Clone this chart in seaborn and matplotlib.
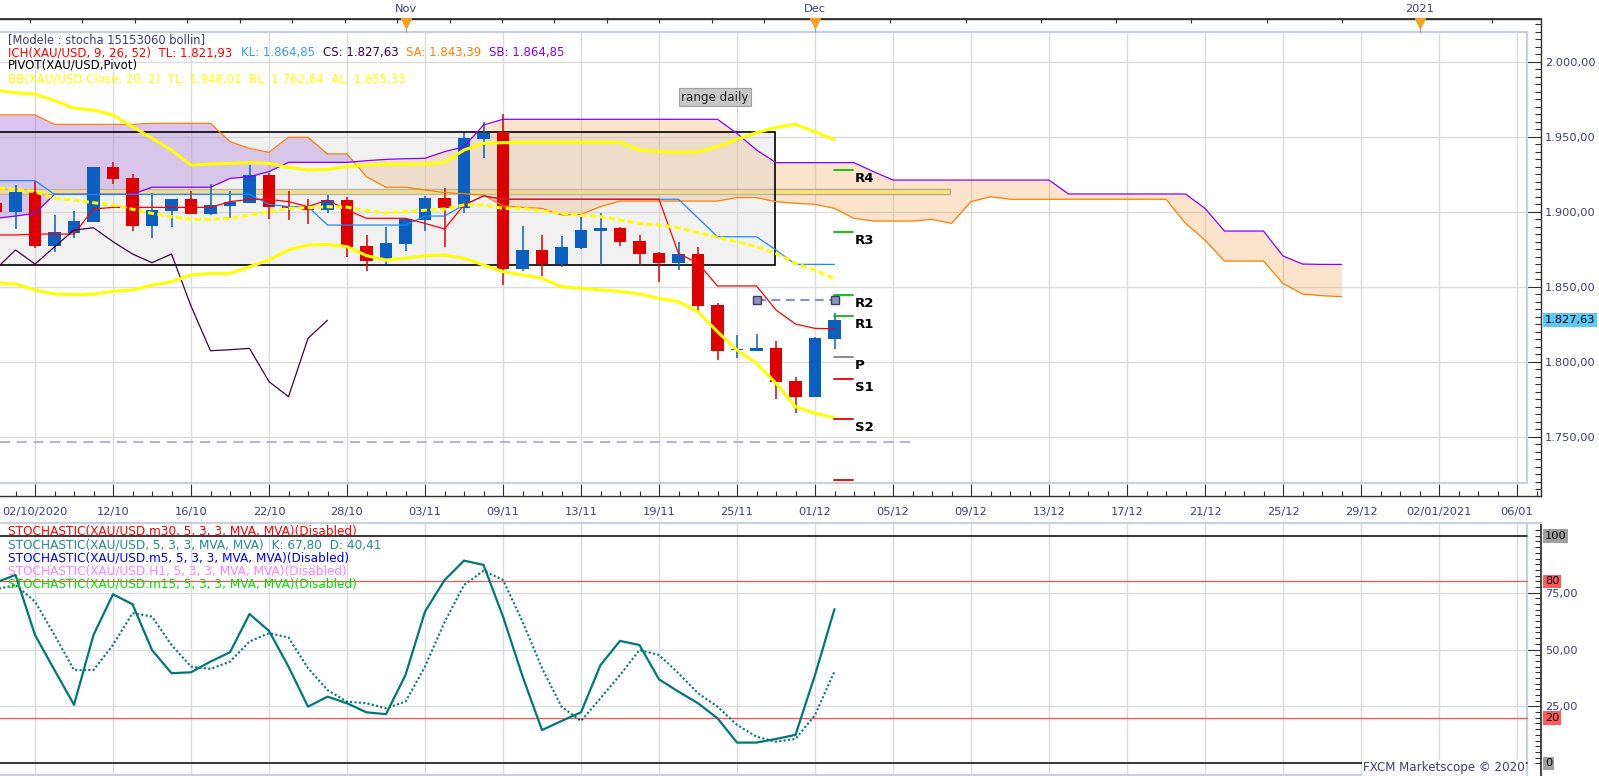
import numpy as np
import pandas as pd
import matplotlib
matplotlib.use("Agg")
import matplotlib.pyplot as plt
from matplotlib.patches import Rectangle
import seaborn as sns

# ---------------- data ----------------
bar_index = list(range(-2, 42))
opens = [1906.0, 1900.0, 1913.3, 1877.3, 1886.0, 1893.3, 1929.8, 1922.5, 1890.7, 1900.7,
         1908.3, 1898.5, 1903.8, 1906.0, 1924.5, 1903.8, 1902.9, 1901.1, 1907.8, 1877.1,
         1868.5, 1878.5, 1894.5, 1909.1, 1902.7, 1948.5, 1952.9, 1861.8, 1874.5, 1865.1,
         1876.0, 1887.3, 1889.3, 1880.7, 1872.3, 1866.0, 1871.8, 1837.8, 1807.5, 1807.3,
         1808.9, 1787.1, 1776.7, 1815.1]
highs = [1908.0, 1917.8, 1920.5, 1897.8, 1900.5, 1929.8, 1933.0, 1925.1, 1912.3, 1908.5,
         1913.8, 1918.5, 1913.8, 1931.1, 1926.0, 1913.8, 1908.3, 1911.1, 1910.0, 1884.5,
         1890.0, 1896.0, 1910.5, 1915.6, 1952.7, 1959.6, 1965.1, 1890.5, 1884.5, 1883.8,
         1896.7, 1898.9, 1889.5, 1884.5, 1873.3, 1880.0, 1876.3, 1839.3, 1817.8, 1818.3,
         1813.8, 1790.0, 1816.7, 1832.3]
lows = [1897.0, 1888.3, 1875.6, 1873.3, 1882.7, 1893.3, 1918.5, 1887.3, 1882.7, 1890.0,
        1898.5, 1897.8, 1895.6, 1906.0, 1895.1, 1894.5, 1891.8, 1898.9, 1870.0, 1860.5,
        1865.0, 1874.0, 1887.3, 1876.7, 1899.3, 1936.0, 1851.1, 1860.7, 1857.3, 1863.3,
        1874.9, 1864.3, 1877.3, 1864.5, 1853.3, 1861.1, 1833.3, 1801.1, 1802.7, 1807.3,
        1775.1, 1765.6, 1776.7, 1808.3]
closes = [1900.0, 1913.3, 1877.1, 1886.5, 1893.8, 1929.8, 1922.0, 1890.7, 1901.1, 1908.3,
          1898.5, 1904.5, 1906.3, 1924.5, 1903.3, 1902.7, 1901.1, 1907.8, 1876.7, 1867.3,
          1879.0, 1895.3, 1909.1, 1902.5, 1949.1, 1952.7, 1861.8, 1874.5, 1865.1, 1876.5,
          1887.8, 1889.3, 1880.0, 1871.8, 1866.0, 1871.8, 1837.1, 1807.3, 1808.0, 1808.9,
          1786.7, 1776.7, 1815.6, 1827.63]
tenkan = [1884.5, 1884.5, 1885.1, 1885.1, 1885.1, 1901.8, 1902.9, 1902.9, 1902.9, 1902.9,
          1902.9, 1902.9, 1906.7, 1908.2, 1908.2, 1906.7, 1903.4, 1907.8, 1901.1, 1895.6,
          1895.6, 1895.6, 1892.2, 1888.5, 1904.5, 1910.5, 1908.3, 1908.3, 1908.3, 1908.3,
          1908.3, 1908.3, 1908.3, 1908.3, 1908.3, 1872.2, 1865.6, 1850.5, 1850.5, 1850.5,
          1834.5, 1825.1, 1822.2, 1821.93]
kijun = [1920.7, 1920.7, 1920.7, 1911.6, 1911.6, 1911.6, 1911.6, 1911.6, 1911.6, 1911.6,
         1911.6, 1911.6, 1911.6, 1911.6, 1904.9, 1903.4, 1903.4, 1891.1, 1891.1, 1891.1,
         1891.1, 1891.1, 1897.1, 1897.1, 1904.5, 1910.5, 1908.3, 1908.3, 1908.3, 1908.3,
         1908.3, 1908.3, 1908.3, 1908.3, 1908.3, 1908.3, 1895.8, 1883.3, 1883.3, 1883.3,
         1874.5, 1864.9, 1864.9, 1864.85]
bb_upper = [1981.0, 1979.3, 1978.5, 1974.0, 1969.0, 1967.8, 1964.5, 1956.7, 1949.0, 1941.1,
            1931.1, 1931.8, 1932.2, 1932.7, 1932.2, 1929.6, 1927.8, 1928.2, 1930.0, 1931.1,
            1931.6, 1931.6, 1931.8, 1932.7, 1941.1, 1945.6, 1946.0, 1946.2, 1946.2, 1946.2,
            1946.2, 1946.2, 1946.2, 1941.1, 1940.0, 1939.6, 1940.0, 1943.3, 1948.2, 1952.7,
            1956.2, 1958.2, 1953.3, 1948.01]
bb_mid = [1916.0, 1914.9, 1913.3, 1908.9, 1907.8, 1906.0, 1904.5, 1901.6, 1898.9, 1896.7,
          1894.9, 1894.9, 1895.6, 1897.8, 1900.0, 1902.2, 1902.7, 1903.3, 1903.0, 1900.7,
          1899.3, 1900.0, 1901.0, 1901.8, 1904.5, 1904.5, 1902.2, 1902.2, 1900.5, 1898.9,
          1897.8, 1896.7, 1894.5, 1892.2, 1891.1, 1889.3, 1886.0, 1882.9, 1880.0, 1876.7,
          1872.2, 1865.6, 1861.1, 1855.33]
bb_lower = [1852.5, 1851.8, 1847.8, 1845.1, 1844.7, 1845.1, 1846.9, 1847.8, 1851.1, 1853.3,
            1857.8, 1858.9, 1858.9, 1863.3, 1867.8, 1874.5, 1877.8, 1878.2, 1876.7, 1870.7,
            1867.8, 1868.9, 1870.7, 1871.1, 1868.9, 1864.5, 1860.0, 1857.8, 1855.6, 1850.0,
            1849.0, 1847.8, 1846.9, 1845.1, 1842.2, 1840.0, 1833.3, 1820.0, 1807.8, 1798.9,
            1785.6, 1770.0, 1765.6, 1762.64]
stoch_k = [79.5, 82.8, 56.4, 41.0, 25.7, 56.4, 74.3, 69.9, 49.8, 39.6,
           40.0, 44.7, 48.8, 65.6, 58.2, 42.5, 24.9, 29.3, 26.4, 22.4,
           21.6, 38.8, 66.7, 80.5, 89.1, 87.2, 64.5, 38.3, 14.6, 18.6,
           22.4, 43.2, 53.8, 52.0, 36.9, 31.5, 26.4, 19.8, 9.1, 9.1,
           10.7, 12.5, 38.8, 67.8]
stoch_d = [76.5, 78.4, 71.1, 56.4, 41.0, 41.0, 52.0, 66.0, 64.5, 52.0,
           42.5, 41.5, 44.7, 53.5, 57.2, 55.3, 41.8, 32.2, 27.1, 26.4,
           24.2, 27.1, 42.5, 62.0, 78.4, 84.6, 80.6, 62.3, 41.8, 24.9,
           18.6, 28.6, 38.8, 49.8, 47.6, 39.6, 30.8, 24.9, 16.9, 11.7,
           9.5, 10.7, 21.2, 40.41]
cloud_index = list(range(-2, 68))
senkou_a = [1964.5, 1964.5, 1964.5, 1958.2, 1958.2, 1958.2, 1958.2, 1958.2, 1958.9, 1958.9,
            1958.9, 1958.9, 1946.7, 1942.2, 1939.6, 1949.6, 1949.6, 1938.5, 1938.5, 1923.3,
            1916.3, 1916.3, 1914.5, 1912.7, 1912.0, 1911.1, 1903.8, 1902.9, 1902.2, 1897.8,
            1898.2, 1903.4, 1907.1, 1907.1, 1907.1, 1907.1, 1907.1, 1907.1, 1909.4, 1909.4,
            1906.7, 1905.6, 1904.9, 1902.2, 1895.6, 1893.8, 1893.8, 1893.8, 1894.9, 1892.2,
            1906.7, 1910.0, 1908.3, 1908.3, 1908.3, 1908.3, 1908.3, 1908.3, 1908.3, 1908.3,
            1908.3, 1892.2, 1881.1, 1867.1, 1867.1, 1867.1, 1852.2, 1845.1, 1844.0, 1843.39]
senkou_b = [1895.6, 1897.1, 1898.9, 1911.6, 1911.6, 1911.6, 1911.6, 1911.6, 1916.3, 1916.3,
            1916.3, 1916.3, 1922.2, 1923.3, 1926.7, 1932.9, 1932.9, 1932.9, 1932.9, 1934.0,
            1934.9, 1935.3, 1935.6, 1940.0, 1943.3, 1957.8, 1961.6, 1961.6, 1961.6, 1961.6,
            1961.6, 1961.6, 1961.6, 1961.6, 1961.6, 1961.6, 1961.6, 1961.6, 1952.2, 1941.1,
            1932.7, 1932.7, 1932.7, 1932.7, 1932.7, 1926.7, 1921.1, 1921.1, 1921.1, 1921.1,
            1921.1, 1921.1, 1921.1, 1921.1, 1921.1, 1911.8, 1911.8, 1911.8, 1911.8, 1911.8,
            1911.8, 1911.8, 1902.2, 1887.1, 1887.1, 1887.1, 1870.5, 1865.1, 1864.85, 1864.85]
chikou_shift = 26
pivot_names = ["R4", "R3", "R2", "R1", "P", "S1", "S2", "S3"]
pivot_levels = [1927.8, 1886.2, 1844.5, 1830.5, 1802.9, 1788.5, 1761.8, 1721.0]
range_box = [1864.5, 1952.8]          # "range daily" rectangle low / high
zone_band = [1911.6, 1915.0]          # horizontal yellow band
hline_level = 1746.3                  # long dashed horizontal line
seg_level = 1841.0                    # short dashed segment with handles
seg_bars = [37, 41]
date_ticks = list(range(0, 77, 4))
date_labels = ["02/10/2020", "12/10", "16/10", "22/10", "28/10", "03/11", "09/11", "13/11",
               "19/11", "25/11", "01/12", "05/12", "09/12", "13/12", "17/12", "21/12",
               "25/12", "29/12", "02/01/2021", "06/01"]
month_ticks = [19, 40, 71]
month_labels = ["Nov", "Dec", "2021"]
price_ticks = [1750, 1800, 1850, 1900, 1950, 2000]
last_price = 1827.63

assert len(opens) == len(highs) == len(lows) == len(closes) == len(bar_index)
assert len(senkou_a) == len(senkou_b) == len(cloud_index)

# ---------------- figure ----------------
sns.set_theme(style="white")
plt.rcParams['font.family'] = ['DejaVu Sans']

W, H = 1599, 776
fig = plt.figure(figsize=(W / 100, H / 100), dpi=100)
fig.patch.set_facecolor('white')


def frac(x0, y0, x1, y1):
    return [x0 / W, 1 - y1 / H, (x1 - x0) / W, (y1 - y0) / H]


ax = fig.add_axes(frac(0, 19, 1541, 496))
ax2 = fig.add_axes(frac(0, 523, 1541, 776))
for a in (ax, ax2):
    a.set_facecolor('white')

X0, DX = 35.0, 19.5


def i_of(px):
    return (px - X0) / DX


def p_of(py):
    return 2000 - (py - 61.7) / 1.5


def s_of(py):
    return (763.3 - py) / 2.275


XMIN, XMAX = i_of(0), i_of(1541)
XR = i_of(1527)
ax.set_xlim(XMIN, XMAX)
ax.set_ylim(p_of(496), p_of(19))
ax2.set_xlim(XMIN, XMAX)
ax2.set_ylim(s_of(776), s_of(523))
YT, YB = p_of(31.7), p_of(483)

GRID = '#dcdcdc'
TXT = '#3d3d7a'
FRAME = '#c8d0dc'

# grid main
for t in date_ticks:
    ax.plot([t, t], [YB, YT], color=GRID, lw=1, zorder=0.5)
for v in price_ticks:
    ax.plot([XMIN, XR], [v, v], color=GRID, lw=1, zorder=0.5)
ax.plot([XMIN, XR, XR, XMIN], [YT, YT, YB, YB], color=FRAME, lw=1.6, zorder=0.6)

# cloud
ca = np.array(cloud_index, dtype=float)
sa = np.array(senkou_a)
sb = np.array(senkou_b)
ax.fill_between(ca, sa, sb, where=sa >= sb, interpolate=True, color='#8a3ada', alpha=0.3, lw=0, zorder=1)
ax.fill_between(ca, sa, sb, where=sa < sb, interpolate=True, color='#f79333', alpha=0.25, lw=0, zorder=1)

# yellow band
ax.add_patch(Rectangle((XMIN - 1, zone_band[0]), i_of(950) - XMIN + 1, zone_band[1] - zone_band[0],
                       facecolor='#ffe37a', edgecolor='#b8ac90', lw=1, zorder=1.5))
# range rectangle
rx1 = i_of(775)
ax.add_patch(Rectangle((XMIN - 1, range_box[0]), rx1 - XMIN + 1, range_box[1] - range_box[0],
                       facecolor='#d0d0d0', edgecolor='none', alpha=0.28, zorder=2))
ax.add_patch(Rectangle((XMIN - 1, range_box[0]), rx1 - XMIN + 1, range_box[1] - range_box[0],
                       facecolor='none', edgecolor='black', lw=1.2, zorder=2.1))
ax.text(i_of(715), p_of(97), "range daily", ha='center', va='center', fontsize=8.6, color='#202020',
        bbox=dict(boxstyle='square,pad=0.2', fc='#c8c8c8', ec='#a0a0a0', lw=0.8), zorder=7)

# candles
df = pd.DataFrame({'i': bar_index, 'o': opens, 'h': highs, 'l': lows, 'c': closes})
df['up'] = df['c'] >= df['o']
cols = np.where(df['up'], '#0a5fc0', '#dd0000')
bottoms = np.minimum(df['o'], df['c'])
heights = np.maximum(np.abs(df['c'] - df['o']), 1.2)
ax.vlines(df['i'], df['l'], df['h'], colors=cols, lw=1.1, zorder=2.9)
ax.bar(df['i'], heights, bottom=bottoms, width=0.63, color=cols, lw=0, zorder=3)


def line(axx, x, y, **kw):
    sns.lineplot(x=list(x), y=list(y), ax=axx, estimator=None, sort=False, **kw)


# ichimoku lines
line(ax, cloud_index, senkou_a, color='#ff7f00', lw=0.9, zorder=4)
line(ax, cloud_index, senkou_b, color='#8000ff', lw=0.9, zorder=4)
line(ax, bar_index, kijun, color='#1e88ff', lw=0.9, zorder=4.2)
line(ax, bar_index, tenkan, color='#ff0000', lw=0.9, zorder=4.3)
chikou = df['c'].shift(-chikou_shift).dropna()
line(ax, df['i'][:len(chikou)], chikou, color='#400040', lw=0.9, zorder=4.3)

# bollinger
line(ax, bar_index, bb_upper, color='#ffff00', lw=2.2, zorder=5)
line(ax, bar_index, bb_lower, color='#ffff00', lw=2.2, zorder=5)
line(ax, bar_index, bb_mid, color='#ffff00', lw=2.2, linestyle=(0, (2.0, 1.1)), zorder=5)

# dashed lines
line(ax, [XMIN, i_of(910)], [hline_level, hline_level], color='#a4a6cc', lw=1.2,
     linestyle=(0, (6, 4)), zorder=4)
line(ax, seg_bars, [seg_level, seg_level], color='#8c94bc', lw=1.6, linestyle=(0, (4, 2.5)), zorder=6)
ax.plot(seg_bars, [seg_level, seg_level], ls='none', marker='s', ms=6, mfc='#8c94bc', mec='#3c3c64',
        mew=1, zorder=6.1)

# pivots
piv_cols = {'R': '#00c000', 'P': '#808080', 'S': '#e00000'}
for name, lvl in zip(pivot_names, pivot_levels):
    ax.plot([40.97, 41.95], [lvl, lvl], color=piv_cols[name[0]], lw=1.3, zorder=6)
    if name != "S3":
        ax.annotate(name, (42.05, lvl), xytext=(0, -2), textcoords='offset pixels', ha='left', va='top',
                    fontsize=9.5, fontweight='bold', color='black', zorder=7)

# axes decoration main
ax.spines['left'].set_visible(False)
for s in ['top', 'bottom', 'right']:
    ax.spines[s].set_color('#303030')
    ax.spines[s].set_linewidth(1)


def fmt_price(v):
    s = f"{v:,.2f}"
    return s.replace(',', 'X').replace('.', ',').replace('X', '.')


ax.yaxis.tick_right()
ax.set_yticks(price_ticks)
ax.set_yticklabels([fmt_price(v) for v in price_ticks])
ax.set_yticks(np.arange(1715, 2026, 5), minor=True)
ax.tick_params(axis='y', which='major', direction='in', length=10, width=0.8, color='#303030',
               pad=3, labelsize=8.2, labelcolor=TXT, right=True, left=False)
ax.tick_params(axis='y', which='minor', direction='in', length=4.3, width=0.8, color='#303030',
               right=True, left=False)
ax.set_xticks(date_ticks)
ax.set_xticklabels(date_labels)
ax.set_xticks(range(-1, 78), minor=True)
ax.tick_params(axis='x', which='major', direction='in', length=9, width=0.8, color='#303030',
               bottom=True, top=False, labelsize=8.2, labelcolor=TXT, pad=8)
ax.tick_params(axis='x', which='minor', direction='in', length=3.6, width=0.8, color='#303030',
               bottom=True, top=False)
ax.set_xlabel('')
ax.set_ylabel('')

sec = ax.secondary_xaxis('top')
sec.set_xticks(month_ticks)
sec.set_xticklabels(month_labels)
top_minor = np.r_[np.arange(-0.26, 40, 2.69), np.arange(40, 77.2, 3.86)]
sec.set_xticks(top_minor, minor=True)
sec.tick_params(axis='x', which='major', direction='in', length=0, pad=3.5, labelsize=8.2, labelcolor=TXT)
sec.tick_params(axis='x', which='minor', direction='in', length=3, width=0.8, color='#303030')
sec.spines['top'].set_color('#303030')

tr = ax.get_xaxis_transform()
yfrac_tri = (496 - 23.5) / 477
ax.plot(month_ticks, [yfrac_tri] * len(month_ticks), ls='none', marker='v', ms=7, color='#f5a020',
        transform=tr, clip_on=False, zorder=8)
for m in month_ticks:
    ax.plot([m, m], [(496 - 27) / 477, (496 - 31.7) / 477], color='#a0a0a0', lw=0.8, transform=tr,
            clip_on=False)

# current price label
ax.text(1.0025, last_price, fmt_price(last_price), transform=ax.get_yaxis_transform(), va='center',
        ha='left', fontsize=8.2, color='black', bbox=dict(boxstyle='square,pad=0.18', fc='#5bc8f5', ec='none'),
        clip_on=False, zorder=9)

# legend text main


def ftext(x, y, s, color, size=8.5, **kw):
    fig.text(x / W, 1 - y / H, s, color=color, fontsize=size, va='center', ha='left', **kw)


ftext(8, 39.5, "[Modele : stocha 15153060 bollin]", TXT, size=8.3)
ftext(8, 52.5, "ICH(XAU/USD, 9, 26, 52)  TL: 1.821,93", '#ff0000')
ftext(241, 52.5, "KL: 1.864,85", '#3399ff')
ftext(323, 52.5, "CS: 1.827,63", '#400040')
ftext(406, 52.5, "SA: 1.843,39", '#ff8000')
ftext(489, 52.5, "SB: 1.864,85", '#8000ff')
ftext(8, 65.5, "PIVOT(XAU/USD,Pivot)", 'black')
ftext(8, 78.5, "BB(XAU/USD.Close, 20, 2)  TL: 1.948,01  BL: 1.762,64  AL: 1.855,33", '#ffff00')

# ---------------- stochastic panel ----------------
SB_ = s_of(775)
for t in date_ticks:
    ax2.plot([t, t], [SB_, s_of(523)], color=GRID, lw=1, zorder=0.5)
for v in [25, 50, 75]:
    ax2.plot([XMIN, XR], [v, v], color=GRID, lw=1, zorder=0.5)
for v in [20, 80]:
    ax2.plot([XMIN, XR], [v, v], color='#ff5050', lw=0.9, zorder=0.7)
for v in [0, 100]:
    ax2.plot([XMIN, XR], [v, v], color='black', lw=1.1, zorder=0.8)
ax2.plot([XR, XR], [SB_, s_of(523)], color=FRAME, lw=1.6, zorder=0.6)
ax2.plot([XMIN, XR], [SB_, SB_], color=FRAME, lw=1.6, zorder=0.6)

line(ax2, bar_index, stoch_d, color='#007878', lw=1.5, linestyle=(0, (1, 1.1)), zorder=3)
line(ax2, bar_index, stoch_k, color='#007878', lw=1.6, zorder=3.1)

for s in ['left', 'bottom']:
    ax2.spines[s].set_visible(False)
ax2.spines['top'].set_color(FRAME)
ax2.spines['top'].set_linewidth(1.6)
ax2.spines['right'].set_color('#303030')
ax2.yaxis.tick_right()
ax2.set_yticks([25, 50, 75])
ax2.set_yticklabels(["25,00", "50,00", "75,00"])
ax2.set_yticks(np.arange(0, 105, 2.5), minor=True)
ax2.tick_params(axis='y', which='major', direction='in', length=10, width=0.8, color='#303030',
                pad=3, labelsize=8.2, labelcolor=TXT, right=True, left=False)
ax2.tick_params(axis='y', which='minor', direction='in', length=4.3, width=0.8, color='#303030',
                right=True, left=False)
ax2.set_xticks([])
ax2.set_xlabel('')
ax2.set_ylabel('')

ytr = ax2.get_yaxis_transform()
for v, lab, bg in [(100, "100", '#a0a0a0'), (80, "80", '#ff5a5a'), (20, "20", '#ff5a5a'), (0, "0", '#a0a0a0')]:
    ax2.text(1.0025, v, lab, transform=ytr, va='center', ha='left', fontsize=8.2, color='black',
             bbox=dict(boxstyle='square,pad=0.15', fc=bg, ec='none'), clip_on=False, zorder=9)

ftext(8, 531, "STOCHASTIC(XAU/USD.m30, 5, 3, 3, MVA, MVA)(Disabled)", '#ff0000', size=8.7)
ftext(8, 545, "STOCHASTIC(XAU/USD, 5, 3, 3, MVA, MVA)  K: 67,80  D: 40,41", '#238c8c', size=8.7)
ftext(8, 558, "STOCHASTIC(XAU/USD.m5, 5, 3, 3, MVA, MVA)(Disabled)", '#0000ff', size=8.7)
ftext(8, 571, "STOCHASTIC(XAU/USD.H1, 5, 3, 3, MVA, MVA)(Disabled)", '#ff80ff', size=8.7)
ftext(8, 584, "STOCHASTIC(XAU/USD.m15, 5, 3, 3, MVA, MVA)(Disabled)", '#00e000', size=8.7)

fig.text(1525 / W, 1 - 768 / H, "FXCM Marketscope © 2020", ha='right', va='center', fontsize=8.6,
         color=TXT, bbox=dict(boxstyle='square,pad=0.1', fc='white', ec='none'))

fig.savefig("out.png", dpi=100, facecolor='white')
